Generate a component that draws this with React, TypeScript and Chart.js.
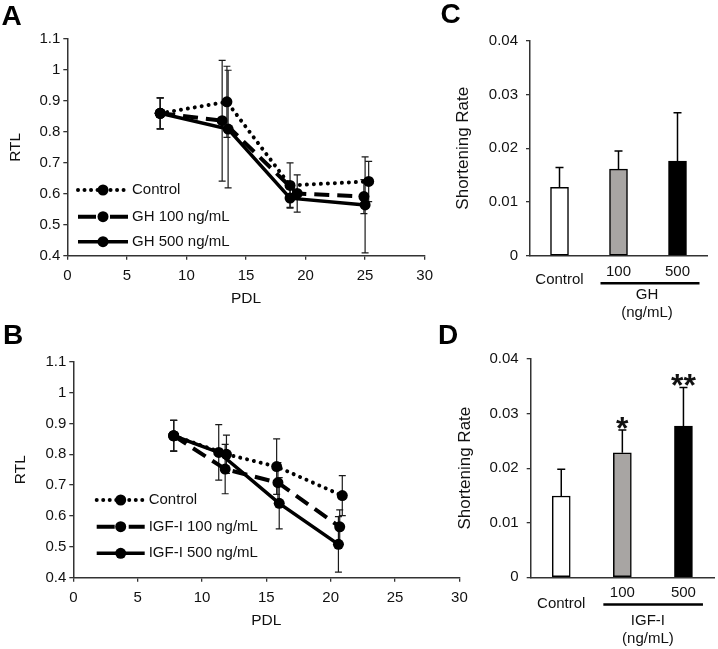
import React, { useEffect, useRef } from 'react';
import { Chart, registerables } from 'chart.js';

Chart.register(...registerables);

const FONT = '"Liberation Sans", Arial, Helvetica, sans-serif';
const TEXT = '#111111';
const AXIS = '#333333';

// ---------- Panel A : GH, relative telomere length vs PDL ----------
const seriesNamesA = ['Control', 'GH 100 ng/mL', 'GH 500 ng/mL'];
const pdlA_control = [7.8, 13.4, 18.7, 25.3];
const rtlA_control = [0.86, 0.897, 0.627, 0.64];
const errA_control = [0.05, 0.115, 0.073, 0.065];
const pdlA_gh100 = [7.8, 13.0, 19.3, 24.9];
const rtlA_gh100 = [0.86, 0.836, 0.601, 0.591];
const errA_gh100 = [0.05, 0.195, 0.06, 0.055];
const pdlA_gh500 = [7.8, 13.5, 18.7, 25.0];
const rtlA_gh500 = [0.86, 0.809, 0.586, 0.564];
const errA_gh500 = [0.05, 0.19, 0.03, 0.155];

// ---------- Panel B : IGF-I, relative telomere length vs PDL ----------
const seriesNamesB = ['Control', 'IGF-I 100 ng/mL', 'IGF-I 500 ng/mL'];
const pdlB_control = [7.8, 11.9, 15.8, 20.9];
const rtlB_control = [0.86, 0.8, 0.76, 0.666];
const errB_control = [0.05, 0.062, 0.09, 0.065];
const pdlB_igf100 = [7.8, 11.8, 15.9, 20.7];
const rtlB_igf100 = [0.86, 0.752, 0.708, 0.565];
const errB_igf100 = [0.05, 0.08, 0.065, 0.055];
const pdlB_igf500 = [7.8, 11.3, 16.0, 20.6];
const rtlB_igf500 = [0.86, 0.806, 0.641, 0.508];
const errB_igf500 = [0.05, 0.09, 0.083, 0.09];

// ---------- tick labels ----------
const pdlTickLabels = ['0', '5', '10', '15', '20', '25', '30'];
const rtlTickLabels = ['0.4', '0.5', '0.6', '0.7', '0.8', '0.9', '1', '1.1'];
const rateTickLabels = ['0', '0.01', '0.02', '0.03', '0.04'];

// ---------- Panel C : GH shortening rate ----------
const categoriesC = ['Control', '100', '500'];
const rateC = [0.0127, 0.0161, 0.0176];
const errC = [0.0037, 0.0034, 0.009];
const groupC = ['GH', '(ng/mL)'];

// ---------- Panel D : IGF-I shortening rate ----------
const categoriesD = ['Control', '100', '500'];
const rateD = [0.0149, 0.0228, 0.0277];
const errD = [0.0049, 0.0042, 0.0071];
const starsD = ['', '*', '**'];
const groupD = ['IGF-I', '(ng/mL)'];

const barFills = ['#ffffff', '#a8a5a3', '#000000'];

const lineStyles = [
  { dash: [0.01, 7], cap: 'round', width: 4, legendDash: [0.01, 6.5] },
  { dash: [15, 8], cap: 'butt', width: 4, legendDash: [18, 14] },
  { dash: [], cap: 'butt', width: 3.5, legendDash: [] },
];

// ---------- plugins ----------
const lineErrorBars = {
  id: 'lineErrorBars',
  beforeDatasetsDraw(chart: any) {
    const ctx = chart.ctx;
    const ys = chart.scales.y;
    ctx.save();
    ctx.strokeStyle = '#1a1a1a';
    ctx.lineWidth = 1.2;
    chart.data.datasets.forEach((ds: any, i: number) => {
      const meta = chart.getDatasetMeta(i);
      ds.data.forEach((p: any, j: number) => {
        const e = ds.errors[j];
        const x = meta.data[j].x;
        const top = ys.getPixelForValue(p.y + e);
        const bot = ys.getPixelForValue(p.y - e);
        ctx.beginPath();
        ctx.moveTo(x, top);
        ctx.lineTo(x, bot);
        ctx.moveTo(x - 3.5, top);
        ctx.lineTo(x + 3.5, top);
        ctx.moveTo(x - 3.5, bot);
        ctx.lineTo(x + 3.5, bot);
        ctx.stroke();
      });
    });
    ctx.restore();
  },
};

const inlineLegend = {
  id: 'inlineLegend',
  afterDraw(chart: any, _args: any, opts: any) {
    const { ctx, chartArea } = chart;
    chart.data.datasets.forEach((ds: any, i: number) => {
      const y = chartArea.bottom - opts.rows[i];
      const x0 = chartArea.left + opts.dx;
      ctx.save();
      ctx.strokeStyle = ds.borderColor;
      ctx.lineWidth = ds.borderWidth;
      ctx.setLineDash(lineStyles[i].legendDash);
      ctx.lineCap = ds.borderCapStyle || 'butt';
      ctx.beginPath();
      ctx.moveTo(x0, y);
      ctx.lineTo(x0 + opts.len, y);
      ctx.stroke();
      ctx.setLineDash([]);
      ctx.fillStyle = ds.pointBackgroundColor;
      ctx.beginPath();
      ctx.arc(x0 + opts.len / 2, y, ds.pointRadius, 0, Math.PI * 2);
      ctx.fill();
      ctx.font = `15px ${FONT}`;
      ctx.fillStyle = TEXT;
      ctx.textBaseline = 'middle';
      ctx.textAlign = 'left';
      ctx.fillText(ds.label, x0 + opts.len + opts.gap, y);
      ctx.restore();
    });
  },
};

const barAnnotations = {
  id: 'barAnnotations',
  afterDatasetsDraw(chart: any, _args: any, opts: any) {
    const { ctx, chartArea } = chart;
    const xs = chart.scales.x;
    const ys = chart.scales.y;
    const ds = chart.data.datasets[0];
    ctx.save();
    ctx.strokeStyle = '#000';
    ctx.lineWidth = 1.5;
    ds.data.forEach((v: number, i: number) => {
      const x = xs.getPixelForValue(i);
      const top = ys.getPixelForValue(v + ds.errors[i]);
      const base = ys.getPixelForValue(v);
      ctx.beginPath();
      ctx.moveTo(x, base);
      ctx.lineTo(x, top);
      ctx.moveTo(x - 4, top);
      ctx.lineTo(x + 4, top);
      ctx.stroke();
    });
    ctx.font = `15px ${FONT}`;
    ctx.fillStyle = TEXT;
    ctx.textAlign = 'center';
    ctx.textBaseline = 'middle';
    chart.data.labels.forEach((lab: string, i: number) => {
      const x = xs.getPixelForValue(i);
      const inGroup = i >= opts.groupFrom && i <= opts.groupTo;
      ctx.fillText(lab, x, chartArea.bottom + (inGroup ? opts.catY : opts.ctrlY));
    });
    const g0 = xs.getPixelForValue(opts.groupFrom);
    const g1 = xs.getPixelForValue(opts.groupTo);
    ctx.lineWidth = 2.5;
    ctx.beginPath();
    ctx.moveTo(g0 - opts.lineLeft, chartArea.bottom + opts.lineY);
    ctx.lineTo(g1 + opts.lineRight, chartArea.bottom + opts.lineY);
    ctx.stroke();
    const gc = (g0 + g1) / 2 + opts.groupShift;
    opts.groupText.forEach((t: string, k: number) => {
      ctx.fillText(t, gc, chartArea.bottom + opts.groupY[k]);
    });
    if (opts.stars) {
      ctx.font = `bold 32px ${FONT}`;
      ctx.textBaseline = 'alphabetic';
      opts.stars.forEach((s: string, i: number) => {
        if (!s) return;
        const x = xs.getPixelForValue(i);
        const top = ys.getPixelForValue(ds.data[i] + ds.errors[i]);
        ctx.fillText(s, x, top - 10 + 0.59 * 32);
      });
    }
    ctx.restore();
  },
};

// ---------- config builders ----------
function lineConfig(p: any) {
  const datasets = p.series.map((s: any, i: number) => ({
    label: s.name,
    data: s.x.map((xx: number, j: number) => ({ x: xx, y: s.y[j] })),
    errors: s.err,
    borderColor: '#000',
    backgroundColor: '#000',
    borderWidth: lineStyles[i].width,
    borderDash: lineStyles[i].dash,
    borderCapStyle: lineStyles[i].cap,
    pointRadius: 5.5,
    pointBackgroundColor: '#000',
    pointBorderWidth: 0,
    tension: 0,
  }));
  return {
    type: 'line',
    data: { datasets },
    plugins: [lineErrorBars, inlineLegend],
    options: {
      responsive: false,
      animation: false,
      events: [],
      layout: { padding: { top: p.padTop, right: p.padRight, left: 0, bottom: 0 } },
      plugins: {
        legend: { display: false },
        tooltip: { enabled: false },
        inlineLegend: p.legend,
      },
      scales: {
        x: {
          type: 'linear',
          min: 0,
          max: 30,
          afterFit: (s: any) => { s.height = p.xHeight; },
          ticks: {
            stepSize: 5,
            maxRotation: 0,
            autoSkip: false,
            padding: 7,
            color: TEXT,
            font: { size: 15, family: FONT },
            callback: (_v: any, i: number) => pdlTickLabels[i],
          },
          grid: { display: true, drawOnChartArea: false, drawTicks: true, tickLength: 4, color: AXIS, lineWidth: 1.3 },
          border: { display: true, color: AXIS, width: 1.5 },
          title: { display: true, text: 'PDL', color: TEXT, font: { size: 15.5, family: FONT }, padding: { top: 0, bottom: p.xTitlePad } },
        },
        y: {
          type: 'linear',
          min: 0.4,
          max: 1.1,
          afterFit: (s: any) => { s.width = p.yWidth; },
          ticks: {
            stepSize: 0.1,
            padding: 3,
            color: TEXT,
            font: { size: 15, family: FONT },
            callback: (_v: any, i: number) => rtlTickLabels[i],
          },
          grid: { display: true, drawOnChartArea: false, drawTicks: true, tickLength: 4, color: AXIS, lineWidth: 1.3 },
          border: { display: true, color: AXIS, width: 1.5 },
          title: { display: true, text: 'RTL', color: TEXT, font: { size: 15.5, family: FONT }, padding: { top: p.yTitlePad, bottom: 0 } },
        },
      },
    },
  };
}

function barConfig(p: any) {
  return {
    type: 'bar',
    data: {
      labels: p.categories,
      datasets: [
        {
          data: p.values,
          errors: p.errors,
          backgroundColor: barFills,
          borderColor: '#000',
          borderWidth: 1.5,
          borderSkipped: false,
          barThickness: 18,
        },
      ],
    },
    plugins: [barAnnotations],
    options: {
      responsive: false,
      animation: false,
      events: [],
      layout: { padding: { top: p.padTop, right: p.padRight, left: 0, bottom: 0 } },
      plugins: {
        legend: { display: false },
        tooltip: { enabled: false },
        barAnnotations: p.annot,
      },
      scales: {
        x: {
          type: 'category',
          afterFit: (s: any) => { s.height = p.xHeight; },
          ticks: { display: false },
          grid: { display: false },
          border: { display: true, color: AXIS, width: 1.5 },
        },
        y: {
          type: 'linear',
          min: 0,
          max: 0.04,
          afterFit: (s: any) => { s.width = p.yWidth; },
          ticks: {
            stepSize: 0.01,
            padding: 8,
            color: TEXT,
            font: { size: 15, family: FONT },
            callback: (_v: any, i: number) => rateTickLabels[i],
          },
          grid: { display: true, drawOnChartArea: false, drawTicks: true, tickLength: 4, color: AXIS, lineWidth: 1.3 },
          border: { display: true, color: AXIS, width: 1.5 },
          title: { display: true, text: 'Shortening Rate', color: TEXT, font: { size: 17, family: FONT }, padding: { top: p.yTitlePad, bottom: 0 } },
        },
      },
    },
  };
}

function ChartBox(props: { left: number; top: number; width: number; height: number; make: () => any }) {
  const ref = useRef<HTMLCanvasElement>(null);
  useEffect(() => {
    const chart = new Chart(ref.current as HTMLCanvasElement, props.make());
    return () => chart.destroy();
  }, []);
  return (
    <canvas
      ref={ref}
      width={props.width}
      height={props.height}
      style={{ position: 'absolute', left: props.left, top: props.top, width: props.width, height: props.height }}
    />
  );
}

function Letter(props: { text: string; left: number; top: number }) {
  return (
    <div
      style={{
        position: 'absolute',
        left: props.left,
        top: props.top,
        font: `bold 28px ${FONT}`,
        lineHeight: '28px',
        color: '#000',
      }}
    >
      {props.text}
    </div>
  );
}

export default function App() {
  const makeA = () =>
    lineConfig({
      series: [
        { name: seriesNamesA[0], x: pdlA_control, y: rtlA_control, err: errA_control },
        { name: seriesNamesA[1], x: pdlA_gh100, y: rtlA_gh100, err: errA_gh100 },
        { name: seriesNamesA[2], x: pdlA_gh500, y: rtlA_gh500, err: errA_gh500 },
      ],
      padTop: 39,
      padRight: 12,
      xHeight: 64.3,
      yWidth: 67.3,
      xTitlePad: 12,
      yTitlePad: 6,
      legend: { dx: 10.7, len: 50, gap: 4, rows: [65.7, 39, 14] },
    });
  const makeB = () =>
    lineConfig({
      series: [
        { name: seriesNamesB[0], x: pdlB_control, y: rtlB_control, err: errB_control },
        { name: seriesNamesB[1], x: pdlB_igf100, y: rtlB_igf100, err: errB_igf100 },
        { name: seriesNamesB[2], x: pdlB_igf500, y: rtlB_igf500, err: errB_igf500 },
      ],
      padTop: 41.7,
      padRight: 20.6,
      xHeight: 71.3,
      yWidth: 73.3,
      xTitlePad: 19,
      yTitlePad: 11,
      legend: { dx: 23.4, len: 48, gap: 4, rows: [77.7, 51, 24.4] },
    });
  const makeC = () =>
    barConfig({
      categories: categoriesC,
      values: rateC,
      errors: errC,
      padTop: 40.7,
      padRight: 11,
      xHeight: 64.3,
      yWidth: 90,
      yTitlePad: 13.2,
      annot: {
        groupFrom: 1,
        groupTo: 2,
        catY: 16.3,
        ctrlY: 24,
        lineY: 27.5,
        lineLeft: 18,
        lineRight: 22,
        groupShift: -1,
        groupText: groupC,
        groupY: [39.5, 57.5],
      },
    });
  const makeD = () =>
    barConfig({
      categories: categoriesD,
      values: rateD,
      errors: errD,
      padTop: 39,
      padRight: 4,
      xHeight: 71.7,
      yWidth: 90.7,
      yTitlePad: 14.8,
      annot: {
        groupFrom: 1,
        groupTo: 2,
        catY: 16,
        ctrlY: 26.5,
        lineY: 27.2,
        lineLeft: 19,
        lineRight: 19.5,
        groupShift: -5,
        groupText: groupD,
        groupY: [43.7, 62],
        stars: starsD,
      },
    });

  return (
    <div style={{ position: 'fixed', left: 0, top: 0, width: 718, height: 649, background: '#fff', overflow: 'hidden' }}>
      <ChartBox left={0} top={0} width={440} height={320} make={makeA} />
      <ChartBox left={0} top={320} width={480} height={329} make={makeB} />
      <ChartBox left={440} top={0} width={278} height={320} make={makeC} />
      <ChartBox left={440} top={320} width={278} height={329} make={makeD} />
      <Letter text="A" left={1.5} top={2.4} />
      <Letter text="B" left={3} top={321.4} />
      <Letter text="C" left={440.5} top={0.4} />
      <Letter text="D" left={438} top={321.4} />
    </div>
  );
}
